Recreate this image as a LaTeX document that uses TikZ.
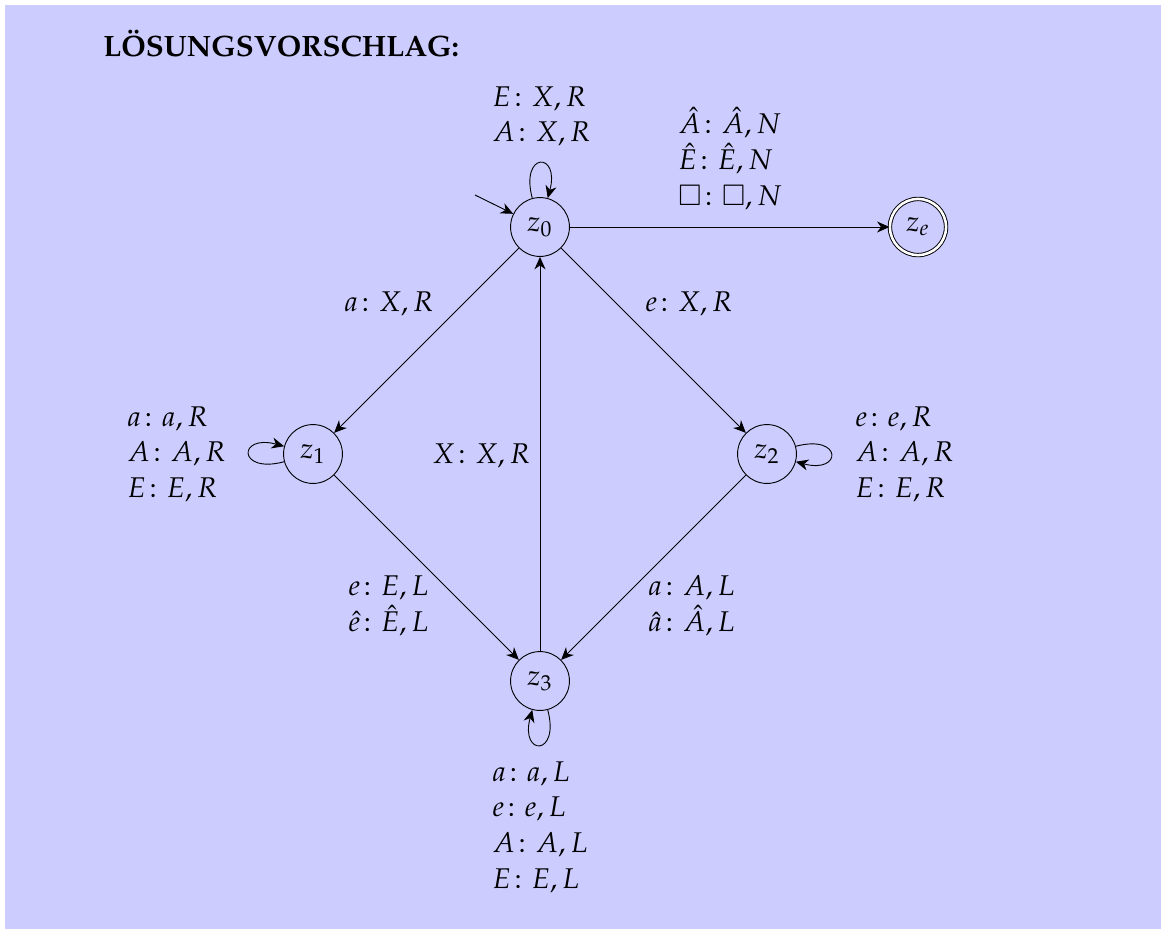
\documentclass[tikz,border=0pt]{standalone}
\usepackage[T1]{fontenc}
\usepackage{amsmath,amssymb}
\usepackage{mathpazo}
\usetikzlibrary{arrows.meta}

\definecolor{lav}{RGB}{204,204,255}

% stacked transition labels, aligned on the baseline of their first row
\newcommand\rowsof[1]{\renewcommand\arraystretch{1.043}\begin{tabular}[t]{@{}l@{}}#1\end{tabular}}

\begin{document}
\begin{tikzpicture}[x=0.4348pt,y=-0.4348pt,
  font=\fontsize{12.4}{15}\selectfont,
  st/.style={circle,draw,minimum size=25.6pt,inner sep=0pt},
  acc/.style={circle,draw,double,double distance=1.1pt,minimum size=24.4pt,inner sep=0pt},
  tr/.style={-{Stealth[length=5.4pt,width=4.8pt,inset=1.7pt]}},
  lab/.style={anchor=base west,inner sep=0pt}]

  % page and tinted panel
  \useasboundingbox (0,0) rectangle (1161,931);
  \fill[white] (0,0) rectangle (1161,931);
  \fill[lav] (5,5) rectangle (1161,929);

  \node[lab,font=\fontsize{12.8}{15}\selectfont\bfseries] (title) at (103,56) {L\"OSUNGSVORSCHLAG:};

  % states
  \node[st]  (z0) at (540,227) {$z_0$};
  \node[st]  (z1) at (313,454) {$z_1$};
  \node[st]  (z2) at (767,454) {$z_2$};
  \node[st]  (z3) at (540,681) {$z_3$};
  \node[acc] (ze) at (918,227) {$z_e$};
  \coordinate (init) at (475,195);

  % transitions
  \draw[tr] (init) -- (z0);
  \draw[tr] (z0) -- (ze);
  \draw[tr] (z0) -- (z1);
  \draw[tr] (z0) -- (z2);
  \draw[tr] (z1) -- (z3);
  \draw[tr] (z2) -- (z3);
  \draw[tr] (z3) -- (z0);
  \draw[tr] (z0) to[loop above] (z0);
  \draw[tr] (z1) to[loop left]  (z1);
  \draw[tr] (z2) to[loop right] (z2);
  \draw[tr] (z3) to[loop below] (z3);

  % transition labels
  \node[lab] (l00) at (492,106) {\rowsof{$E\colon X, R$\\ $A\colon X, R$}};
  \node[lab] (l0e) at (678,133) {\rowsof{$\hat{A}\colon \hat{A}, N$\\ $\hat{E}\colon \hat{E}, N$\\ $\square\colon \square, N$}};
  \node[lab] (l01) at (344,311) {$a\colon X, R$};
  \node[lab] (l02) at (645,311) {$e\colon X, R$};
  \node[lab] (l11) at (127,426) {\rowsof{$a\colon a, R$\\ $A\colon A, R$\\ $E\colon E, R$}};
  \node[lab] (l22) at (855,426) {\rowsof{$e\colon e, R$\\ $A\colon A, R$\\ $E\colon E, R$}};
  \node[lab] (l30) at (432,463) {$X\colon X, R$};
  \node[lab] (l13) at (348,595) {\rowsof{$e\colon E, L$\\ $\hat{e}\colon \hat{E}, L$}};
  \node[lab] (l23) at (648,595) {\rowsof{$a\colon A, L$\\ $\hat{a}\colon \hat{A}, L$}};
  \node[lab] (l33) at (492,781) {\rowsof{$a\colon a, L$\\ $e\colon e, L$\\ $A\colon A, L$\\ $E\colon E, L$}};
\end{tikzpicture}
\end{document}
